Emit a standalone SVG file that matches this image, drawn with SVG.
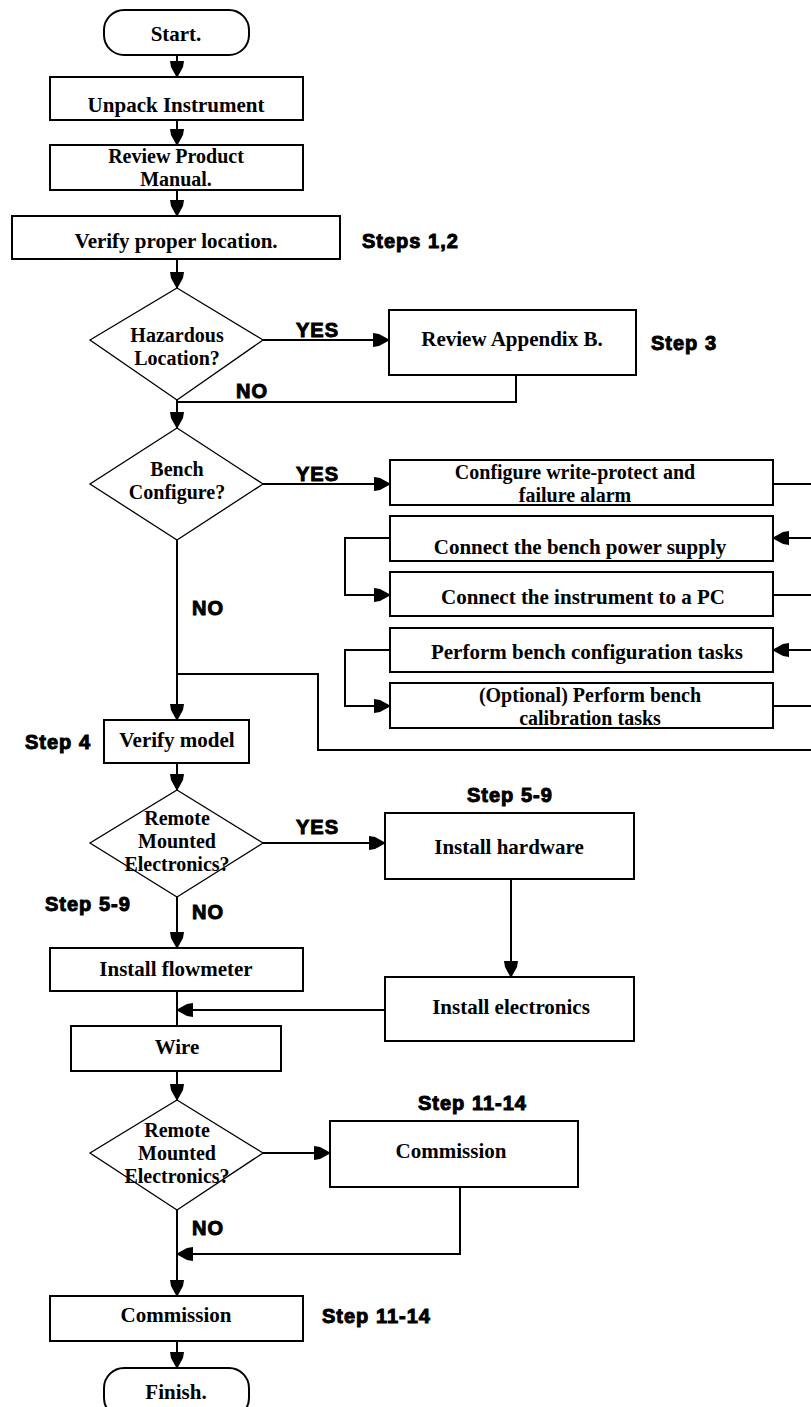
<svg xmlns="http://www.w3.org/2000/svg" width="811" height="1407" viewBox="0 0 811 1407">
<style>
.box{fill:#fff;stroke:#000;stroke-width:2}
.dia{fill:#fff;stroke:#000;stroke-width:1.3}
.t{font-family:"Liberation Serif","Times New Roman",serif;font-weight:bold;font-size:21px;text-anchor:middle;fill:#000}
.m{font-size:20px}
.l{font-family:"Liberation Sans",Arial,sans-serif;font-weight:bold;font-size:20px;letter-spacing:1px;fill:#000;stroke:#000;stroke-width:1}
.c{fill:none;stroke:#000;stroke-width:2}
.ca{fill:none;stroke:#000;stroke-width:2;marker-end:url(#ah)}
</style>
<defs>
<marker id="ah" markerUnits="userSpaceOnUse" markerWidth="17" markerHeight="14" refX="16" refY="7" orient="auto" viewBox="0 0 17 14">
<path d="M0,0 L6,1 L17,7 L6,13 L0,14 z" fill="#000"/>
</marker>
</defs>
<rect width="811" height="1407" fill="#fff"/>
<g id="connectors">
<line class="ca" x1="177" y1="55" x2="177" y2="77"/>
<line class="ca" x1="177" y1="120" x2="177" y2="145"/>
<line class="ca" x1="177" y1="190" x2="177" y2="216"/>
<line class="ca" x1="177" y1="259" x2="177" y2="288"/>
<line class="ca" x1="263" y1="340" x2="389" y2="340"/>
<polyline class="c" points="516,375 516,402 177,402"/>
<line class="ca" x1="177" y1="398" x2="177" y2="428"/>
<line class="ca" x1="263" y1="484" x2="390" y2="484"/>
<line class="c" x1="773" y1="484" x2="811" y2="484"/>
<line class="ca" x1="811" y1="538" x2="773" y2="538"/>
<polyline class="ca" points="390,538 345,538 345,595 390,595"/>
<line class="c" x1="773" y1="595" x2="811" y2="595"/>
<line class="ca" x1="811" y1="650" x2="773" y2="650"/>
<polyline class="ca" points="390,650 345,650 345,706 390,706"/>
<line class="c" x1="773" y1="706" x2="811" y2="706"/>
<polyline class="c" points="811,750 318,750 318,674 177,674"/>
<line class="ca" x1="177" y1="540" x2="177" y2="720"/>
<line class="ca" x1="177" y1="763" x2="177" y2="790"/>
<line class="ca" x1="263" y1="843" x2="385" y2="843"/>
<line class="ca" x1="511" y1="879" x2="511" y2="977"/>
<line class="ca" x1="177" y1="897" x2="177" y2="948"/>
<line class="c" x1="177" y1="991" x2="177" y2="1026"/>
<line class="ca" x1="385" y1="1010" x2="177" y2="1010"/>
<line class="ca" x1="177" y1="1071" x2="177" y2="1100"/>
<line class="ca" x1="263" y1="1153" x2="330" y2="1153"/>
<polyline class="ca" points="460,1187 460,1254 177,1254"/>
<line class="ca" x1="177" y1="1210" x2="177" y2="1296"/>
<line class="ca" x1="177" y1="1341" x2="177" y2="1368"/>
</g>
<g id="start"><rect class="box" x="104" y="10" width="145" height="45" rx="20"/><text class="t" x="176" y="41">Start.</text></g>
<g id="unpack"><rect class="box" x="50" y="77" width="253" height="43"/><text class="t" x="176" y="112">Unpack Instrument</text></g>
<g id="review"><rect class="box" x="50" y="145" width="253" height="45"/><text class="t m" x="176" y="163">Review Product</text><text class="t m" x="176" y="186">Manual.</text></g>
<g id="verify-loc"><rect class="box" x="12" y="216" width="328" height="43"/><text class="t" x="176" y="248">Verify proper location.</text></g>
<g id="lbl-steps12"><text class="l" x="362" y="248">Steps 1,2</text></g>
<g id="hazardous"><polygon class="dia" points="177,288 263,340 177,400 90,340"/><text class="t m" x="177" y="342">Hazardous</text><text class="t m" x="177" y="365">Location?</text></g>
<g id="lbl-yes1"><text class="l" x="296" y="337">YES</text></g>
<g id="appendix"><rect class="box" x="389" y="310" width="247" height="65"/><text class="t" x="512" y="346">Review Appendix B.</text></g>
<g id="lbl-step3"><text class="l" x="651" y="350">Step 3</text></g>
<g id="lbl-no1"><text class="l" x="236" y="398">NO</text></g>
<g id="bench"><polygon class="dia" points="177,428 263,484 177,540 90,484"/><text class="t m" x="177" y="476">Bench</text><text class="t m" x="177" y="499">Configure?</text></g>
<g id="lbl-yes2"><text class="l" x="296" y="481">YES</text></g>
<g id="cfg-wp"><rect class="box" x="390" y="460" width="383" height="45"/><text class="t m" x="575" y="479">Configure write-protect and</text><text class="t m" x="575" y="502">failure alarm</text></g>
<g id="power"><rect class="box" x="390" y="516" width="383" height="45"/><text class="t" x="580" y="554">Connect the bench power supply</text></g>
<g id="pc"><rect class="box" x="390" y="572" width="383" height="44"/><text class="t" x="583" y="604">Connect the instrument to a PC</text></g>
<g id="bench-cfg"><rect class="box" x="390" y="628" width="383" height="44"/><text class="t" x="587" y="659">Perform bench configuration tasks</text></g>
<g id="bench-cal"><rect class="box" x="390" y="683" width="383" height="45"/><text class="t m" x="590" y="702">(Optional) Perform bench</text><text class="t m" x="590" y="725">calibration tasks</text></g>
<g id="lbl-no2"><text class="l" x="192" y="615">NO</text></g>
<g id="lbl-step4"><text class="l" x="25" y="749">Step 4</text></g>
<g id="verify-model"><rect class="box" x="104" y="720" width="145" height="43"/><text class="t" x="177" y="747">Verify model</text></g>
<g id="remote1"><polygon class="dia" points="177,790 263,843 177,897 90,843"/><text class="t m" x="177" y="825">Remote</text><text class="t m" x="177" y="848">Mounted</text><text class="t m" x="177" y="871">Electronics?</text></g>
<g id="lbl-yes3"><text class="l" x="296" y="834">YES</text></g>
<g id="lbl-step59a"><text class="l" x="467" y="802">Step 5-9</text></g>
<g id="hardware"><rect class="box" x="385" y="813" width="249" height="66"/><text class="t" x="509" y="854">Install hardware</text></g>
<g id="electronics"><rect class="box" x="385" y="977" width="249" height="64"/><text class="t" x="511" y="1014">Install electronics</text></g>
<g id="lbl-step59b"><text class="l" x="45" y="911">Step 5-9</text></g>
<g id="lbl-no3"><text class="l" x="192" y="919">NO</text></g>
<g id="flowmeter"><rect class="box" x="50" y="948" width="253" height="43"/><text class="t" x="176" y="976">Install flowmeter</text></g>
<g id="wire"><rect class="box" x="71" y="1026" width="210" height="45"/><text class="t" x="177" y="1054">Wire</text></g>
<g id="remote2"><polygon class="dia" points="177,1100 263,1153 177,1210 90,1153"/><text class="t m" x="177" y="1137">Remote</text><text class="t m" x="177" y="1160">Mounted</text><text class="t m" x="177" y="1183">Electronics?</text></g>
<g id="lbl-step1114a"><text class="l" x="418" y="1110">Step 11-14</text></g>
<g id="commission1"><rect class="box" x="330" y="1121" width="248" height="66"/><text class="t" x="451" y="1158">Commission</text></g>
<g id="lbl-no4"><text class="l" x="192" y="1235">NO</text></g>
<g id="commission2"><rect class="box" x="50" y="1296" width="253" height="45"/><text class="t" x="176" y="1322">Commission</text></g>
<g id="lbl-step1114b"><text class="l" x="322" y="1323">Step 11-14</text></g>
<g id="finish"><rect class="box" x="104" y="1368" width="145" height="50" rx="20"/><text class="t" x="176" y="1399">Finish.</text></g>
</svg>
